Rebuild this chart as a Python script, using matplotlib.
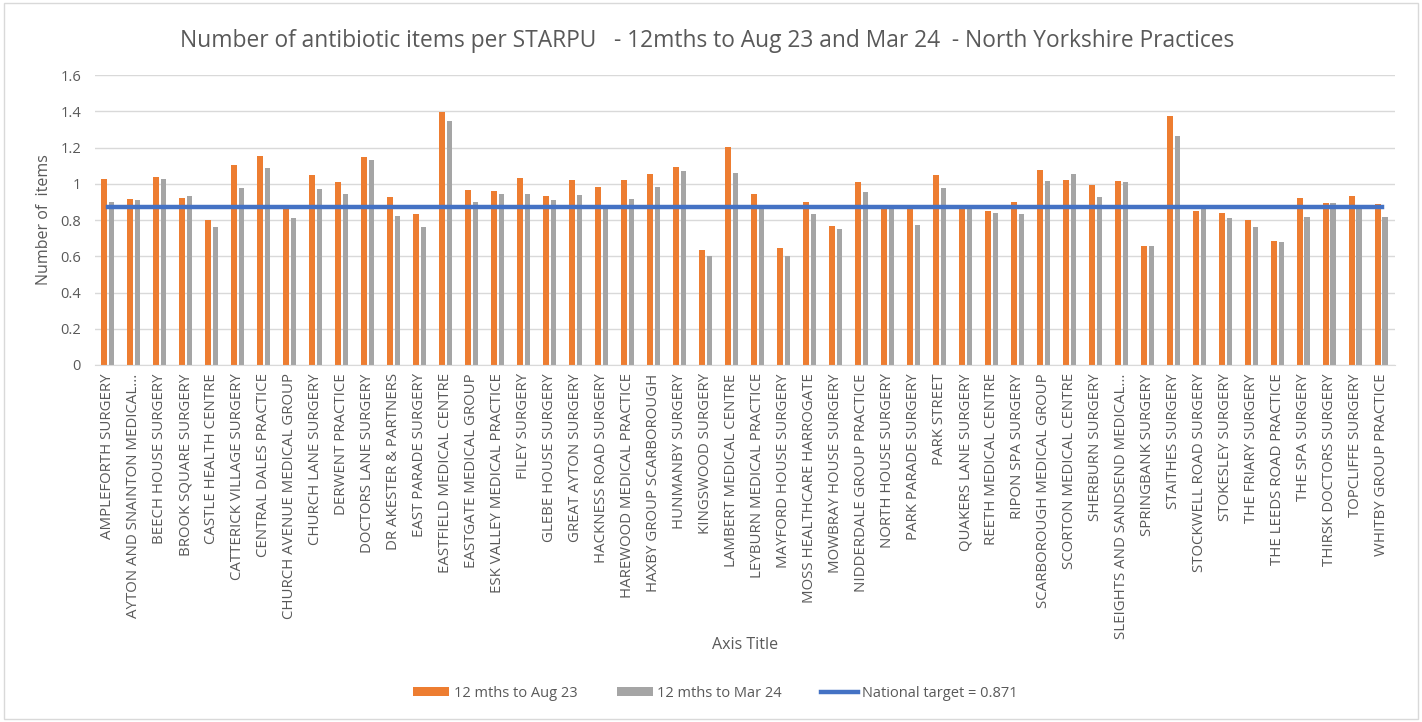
import matplotlib
matplotlib.use("Agg")
import matplotlib.pyplot as plt
import numpy as np
from matplotlib.patches import Rectangle

practices = [
    "AMPLEFORTH SURGERY", "AYTON AND SNAINTON MEDICAL...", "BEECH HOUSE SURGERY",
    "BROOK SQUARE SURGERY", "CASTLE HEALTH CENTRE", "CATTERICK VILLAGE SURGERY",
    "CENTRAL DALES PRACTICE", "CHURCH AVENUE MEDICAL GROUP", "CHURCH LANE SURGERY",
    "DERWENT PRACTICE", "DOCTORS LANE SURGERY", "DR AKESTER & PARTNERS",
    "EAST PARADE SURGERY", "EASTFIELD MEDICAL CENTRE", "EASTGATE MEDICAL GROUP",
    "ESK VALLEY MEDICAL PRACTICE", "FILEY SURGERY", "GLEBE HOUSE SURGERY",
    "GREAT AYTON SURGERY", "HACKNESS ROAD SURGERY", "HAREWOOD MEDICAL PRACTICE",
    "HAXBY GROUP SCARBOROUGH", "HUNMANBY SURGERY", "KINGSWOOD SURGERY",
    "LAMBERT MEDICAL CENTRE", "LEYBURN MEDICAL PRACTICE", "MAYFORD HOUSE SURGERY",
    "MOSS HEALTHCARE HARROGATE", "MOWBRAY HOUSE SURGERY", "NIDDERDALE GROUP PRACTICE",
    "NORTH HOUSE SURGERY", "PARK PARADE SURGERY", "PARK STREET",
    "QUAKERS LANE SURGERY", "REETH MEDICAL CENTRE", "RIPON SPA SURGERY",
    "SCARBOROUGH MEDICAL GROUP", "SCORTON MEDICAL CENTRE", "SHERBURN SURGERY",
    "SLEIGHTS AND SANDSEND MEDICAL...", "SPRINGBANK SURGERY", "STAITHES SURGERY",
    "STOCKWELL ROAD SURGERY", "STOKESLEY SURGERY", "THE FRIARY SURGERY",
    "THE LEEDS ROAD PRACTICE", "THE SPA SURGERY", "THIRSK DOCTORS SURGERY",
    "TOPCLIFFE SURGERY", "WHITBY GROUP PRACTICE",
]

aug23 = [
    1.028, 0.915, 1.040, 0.919, 0.801, 1.103, 1.155, 0.871, 1.046, 1.009,
    1.147, 0.926, 0.832, 1.396, 0.965, 0.958, 1.033, 0.932, 1.020, 0.983,
    1.020, 1.052, 1.090, 0.634, 1.204, 0.945, 0.648, 0.900, 0.768, 1.009,
    0.868, 0.866, 1.046, 0.868, 0.851, 0.900, 1.077, 1.020, 0.994, 1.017,
    0.654, 1.376, 0.851, 0.838, 0.801, 0.685, 0.919, 0.893, 0.932, 0.888,
]

mar24 = [
    0.900, 0.908, 1.028, 0.934, 0.762, 0.978, 1.087, 0.812, 0.970, 0.945,
    1.129, 0.825, 0.762, 1.346, 0.900, 0.945, 0.945, 0.908, 0.939, 0.866,
    0.915, 0.983, 1.072, 0.599, 1.059, 0.866, 0.604, 0.832, 0.750, 0.952,
    0.866, 0.773, 0.978, 0.866, 0.838, 0.832, 1.015, 1.053, 0.926, 1.009,
    0.654, 1.262, 0.866, 0.812, 0.762, 0.680, 0.818, 0.893, 0.878, 0.818,
]

national_target = 0.871

plt.rcParams['font.family'] = ['Open Sans', 'DejaVu Sans']
text_col = '#595959'

fig = plt.figure(figsize=(14.22, 7.22), dpi=100)
fig.patches.append(Rectangle((0.003, 0.004), 0.994, 0.992, transform=fig.transFigure,
                             fill=False, edgecolor='#d9d9d9', linewidth=1))
ax = fig.add_axes([0.0668, 0.4945, 0.914, 0.4015])

x = np.arange(len(practices))
w = 0.22
b1 = ax.bar(x - 0.14, aug23, width=w, color='#ED7D31', label='12 mths to Aug 23', zorder=2)
b2 = ax.bar(x + 0.14, mar24, width=w, color='#A5A5A5', label='12 mths to Mar 24', zorder=2)
ln, = ax.plot(x, [national_target] * len(x), color='#4472C4', linewidth=3.2,
              label='National target = 0.871', zorder=3)

ax.set_xlim(-0.5, len(practices) - 0.5)
ax.set_ylim(0, 1.6)
ax.set_yticks(np.arange(0, 1.61, 0.2))
ax.set_yticklabels(['0', '0.2', '0.4', '0.6', '0.8', '1', '1.2', '1.4', '1.6'])
ax.yaxis.grid(True, color='#d9d9d9', linewidth=1, zorder=0)
ax.set_axisbelow(True)
for s in ['top', 'right', 'left']:
    ax.spines[s].set_visible(False)
ax.spines['bottom'].set_color('#d9d9d9')
ax.tick_params(axis='y', length=0, labelsize=10.5, labelcolor=text_col, pad=10)
ax.tick_params(axis='x', length=0, labelsize=10.8, labelcolor=text_col, pad=6)
ax.set_xticks(x)
ax.set_xticklabels(practices, rotation=90)

ax.set_ylabel('Number of  items', fontsize=11.5, color=text_col, labelpad=6)
fig.text(0.524, 0.106, 'Axis Title', ha='center', va='center', fontsize=11.5, color=text_col)
fig.text(0.497, 0.943,
         'Number of antibiotic items per STARPU   - 12mths to Aug 23 and Mar 24  - North Yorkshire Practices',
         ha='center', va='center', fontsize=16.4, color=text_col)

fig.legend(handles=[b1, b2, ln], loc='center', bbox_to_anchor=(0.503, 0.04), ncol=3,
           frameon=False, fontsize=10.5, labelcolor=text_col, handlelength=2.5,
           handleheight=0.5, handletextpad=0.3, columnspacing=2.7)

fig.savefig('out.png', dpi=100)
